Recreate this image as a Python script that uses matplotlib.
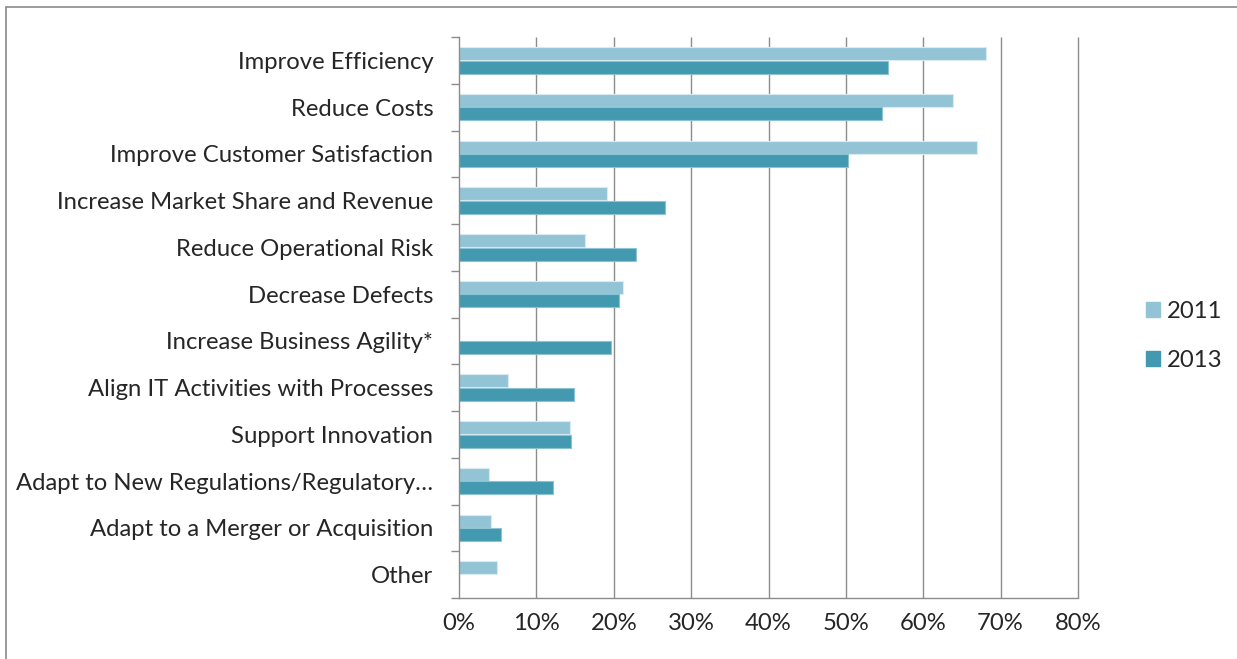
import matplotlib
matplotlib.use("Agg")
import matplotlib.pyplot as plt
import matplotlib.patches as mpatches
import numpy as np

categories = ["Improve Efficiency", "Reduce Costs", "Improve Customer Satisfaction",
              "Increase Market Share and Revenue", "Reduce Operational Risk",
              "Decrease Defects", "Increase Business Agility*",
              "Align IT Activities with Processes", "Support Innovation",
              "Adapt to New Regulations/Regulatory\u2026",
              "Adapt to a Merger or Acquisition", "Other"]
v2011 = [68.1, 63.8, 66.9, 19.1, 16.3, 21.2, 0.0, 6.3, 14.3, 3.9, 4.1, 4.9]
v2013 = [55.4, 54.7, 50.3, 26.6, 22.9, 20.7, 19.6, 14.9, 14.5, 12.1, 5.4, 0.0]
xticks = [0, 10, 20, 30, 40, 50, 60, 70, 80]
xticklabels = ["0%", "10%", "20%", "30%", "40%", "50%", "60%", "70%", "80%"]
series_names = ["2011", "2013"]

c2011 = "#93C4D6"
c2013 = "#4399B0"
grid_c = "#8c8c8c"
text_c = "#262626"

plt.rcParams['font.family'] = ['Lato', 'DejaVu Sans']
FS = 17.2

fig = plt.figure(figsize=(12.37, 6.59), dpi=100)
ax = fig.add_axes([459/1237, 1-598/659, (1078-459)/1237, (598-37)/659])

n = len(categories)
y = np.arange(n)
h = 0.28
ax.barh(y - 0.145, v2011, height=h, color=c2011, edgecolor="#d8ebf2", linewidth=0.8, zorder=2, label=series_names[0])
ax.barh(y + 0.145, v2013, height=h, color=c2013, edgecolor="#8cc3d2", linewidth=0.8, zorder=2, label=series_names[1])

ax.set_ylim(n - 0.5, -0.5)
ax.set_xlim(0, 80)
ax.set_xticks(xticks)
ax.set_xticklabels(xticklabels, fontsize=FS, color=text_c)
ax.set_yticks(y)
ax.set_yticklabels(categories, fontsize=FS, color=text_c)
ax.tick_params(axis='y', length=0, pad=18.5)
ax.tick_params(axis='x', length=0, pad=11)
# category boundary ticks
ax.set_yticks(np.arange(n + 1) - 0.5, minor=True)
ax.tick_params(axis='y', which='minor', length=6, color=grid_c, width=1)
ax.set_xticks(xticks, minor=True)
ax.tick_params(axis='x', which='minor', length=6, color=grid_c, width=1)

ax.vlines(xticks[1:], -0.5, n - 0.5, colors=grid_c, linewidth=1, zorder=0, clip_on=False)
for s in ['top', 'right']:
    ax.spines[s].set_visible(False)
for s in ['left', 'bottom']:
    ax.spines[s].set_color(grid_c)
    ax.spines[s].set_linewidth(1)

# legend
leg = fig.legend(handles=[mpatches.Patch(color=c2011, label="2011"),
                          mpatches.Patch(color=c2013, label="2013")],
                 loc='center left', bbox_to_anchor=(1124/1237, 1-336/659),
                 frameon=False, fontsize=FS, handlelength=0.6, handleheight=0.6,
                 handletextpad=0.3, labelspacing=1.2, labelcolor=text_c)

# outer frame
fig.add_artist(mpatches.Rectangle((6/1237, -0.1), 1.2, 1 - 7/659 + 0.1,
                                  transform=fig.transFigure, fill=False,
                                  edgecolor="#8a8a8a", linewidth=1.2, clip_on=False))

fig.savefig("out.png", dpi=100, facecolor="white")
